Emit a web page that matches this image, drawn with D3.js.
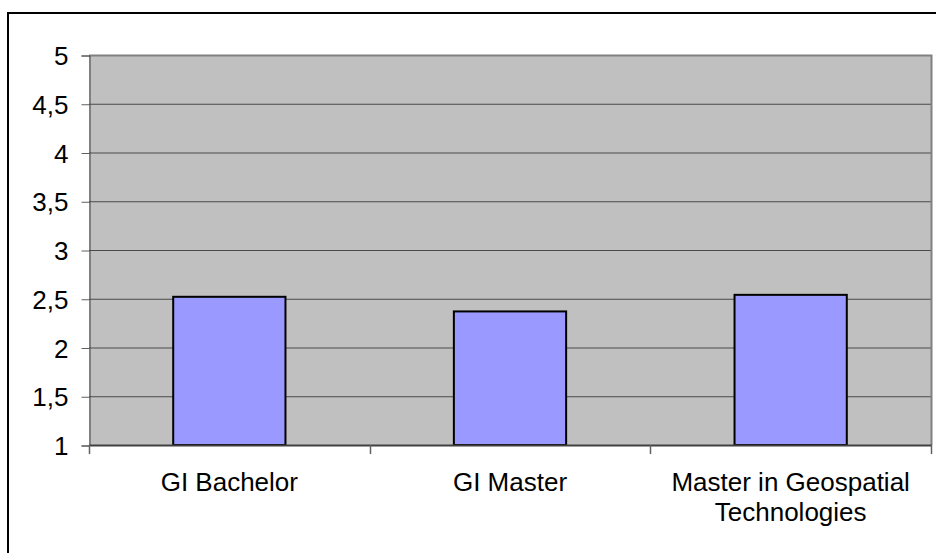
<!DOCTYPE html>
<html>
<head>
<meta charset="utf-8">
<script src="https://cdn.jsdelivr.net/npm/d3@7"></script>
<style>
  body { margin: 0; background: #fff; }
  svg { display: block; font-family: "Liberation Sans", Arial, sans-serif; }
</style>
</head>
<body>
<div id="chart"></div>
<script>
// Data
var categories = ['GI Bachelor', 'GI Master', 'Master in Geospatial Technologies'];
var values = [2.52, 2.37, 2.54];
var yTicks = [1, 1.5, 2, 2.5, 3, 3.5, 4, 4.5, 5];

var width = 936, height = 553;
var plot = {left: 89, top: 55, right: 931, bottom: 445};

var svg = d3.select('#chart').append('svg')
    .attr('width', width)
    .attr('height', height);

// outer frame (runs past right/bottom edges)
svg.append('rect')
    .attr('x', 8).attr('y', 13)
    .attr('width', 960).attr('height', 580)
    .attr('fill', 'none')
    .attr('stroke', '#000')
    .attr('stroke-width', 2);

var x = d3.scaleBand()
    .domain(categories)
    .range([plot.left, plot.right])
    .paddingInner(0.6)
    .paddingOuter(0.3);

var xOuter = d3.scaleBand()
    .domain(categories)
    .range([plot.left, plot.right]);

var y = d3.scaleLinear()
    .domain([1, 5])
    .range([plot.bottom, plot.top]);

// plot background
svg.append('rect')
    .attr('x', plot.left).attr('y', plot.top)
    .attr('width', plot.right - plot.left)
    .attr('height', plot.bottom - plot.top)
    .attr('fill', '#c0c0c0');

// gridlines
svg.selectAll('.grid')
    .data(yTicks.filter(function(d) { return d > 1 && d < 5; }))
    .enter().append('line')
    .attr('class', 'grid')
    .attr('x1', plot.left).attr('x2', plot.right)
    .attr('y1', function(d) { return y(d) + 0.5; })
    .attr('y2', function(d) { return y(d) + 0.5; })
    .attr('stroke', '#4a4a4a')
    .attr('stroke-width', 1);

// plot border top & right
svg.append('path')
    .attr('d', 'M' + plot.left + ',' + (plot.top + 0.5) + 'H' + (plot.right + 0.5) + 'V' + plot.bottom)
    .attr('fill', 'none')
    .attr('stroke', '#808080')
    .attr('stroke-width', 2);

// bars
svg.selectAll('.bar')
    .data(values)
    .enter().append('rect')
    .attr('class', 'bar')
    .attr('x', function(d, i) { return x(categories[i]); })
    .attr('y', function(d) { return y(d); })
    .attr('width', x.bandwidth())
    .attr('height', function(d) { return y(1) - y(d); })
    .attr('fill', '#9999ff')
    .attr('stroke', '#000')
    .attr('stroke-width', 2);

// y axis
var yAxis = d3.axisLeft(y)
    .tickValues(yTicks)
    .tickSize(8)
    .tickPadding(13)
    .tickFormat(function(d) { return String(d).replace('.', ','); });

var gy = svg.append('g')
    .attr('transform', 'translate(' + (plot.left + 0.5) + ',0.5)')
    .call(yAxis);
gy.select('.domain').attr('stroke', '#404040');
gy.selectAll('.tick line').attr('stroke', '#606060');
gy.selectAll('.tick text')
    .attr('fill', '#000')
    .style('font-size', '26px')
    .attr('dy', '0.35em');

// x axis line and ticks at category boundaries
svg.append('line')
    .attr('x1', plot.left).attr('x2', plot.right + 1)
    .attr('y1', plot.bottom + 0.5).attr('y2', plot.bottom + 0.5)
    .attr('stroke', '#404040')
    .attr('stroke-width', 2);

var bounds = categories.map(function(c) { return xOuter(c); }).concat([plot.right]);
svg.selectAll('.xtick')
    .data(bounds)
    .enter().append('line')
    .attr('class', 'xtick')
    .attr('x1', function(d) { return Math.round(d) + 0.5; })
    .attr('x2', function(d) { return Math.round(d) + 0.5; })
    .attr('y1', plot.bottom).attr('y2', plot.bottom + 9)
    .attr('stroke', '#606060')
    .attr('stroke-width', 1.5);

// category labels (wrapped)
var labelLines = {
    'GI Bachelor': ['GI Bachelor'],
    'GI Master': ['GI Master'],
    'Master in Geospatial Technologies': ['Master in Geospatial', 'Technologies']
};
var labels = svg.selectAll('.xlabel')
    .data(categories)
    .enter().append('text')
    .attr('class', 'xlabel')
    .attr('text-anchor', 'middle')
    .style('font-size', '26px')
    .attr('fill', '#000');

labels.each(function(c) {
    var t = d3.select(this);
    labelLines[c].forEach(function(line, i) {
        t.append('tspan')
            .attr('x', xOuter(c) + xOuter.bandwidth() / 2)
            .attr('y', 491 + i * 30)
            .text(line);
    });
});
</script>
</body>
</html>
